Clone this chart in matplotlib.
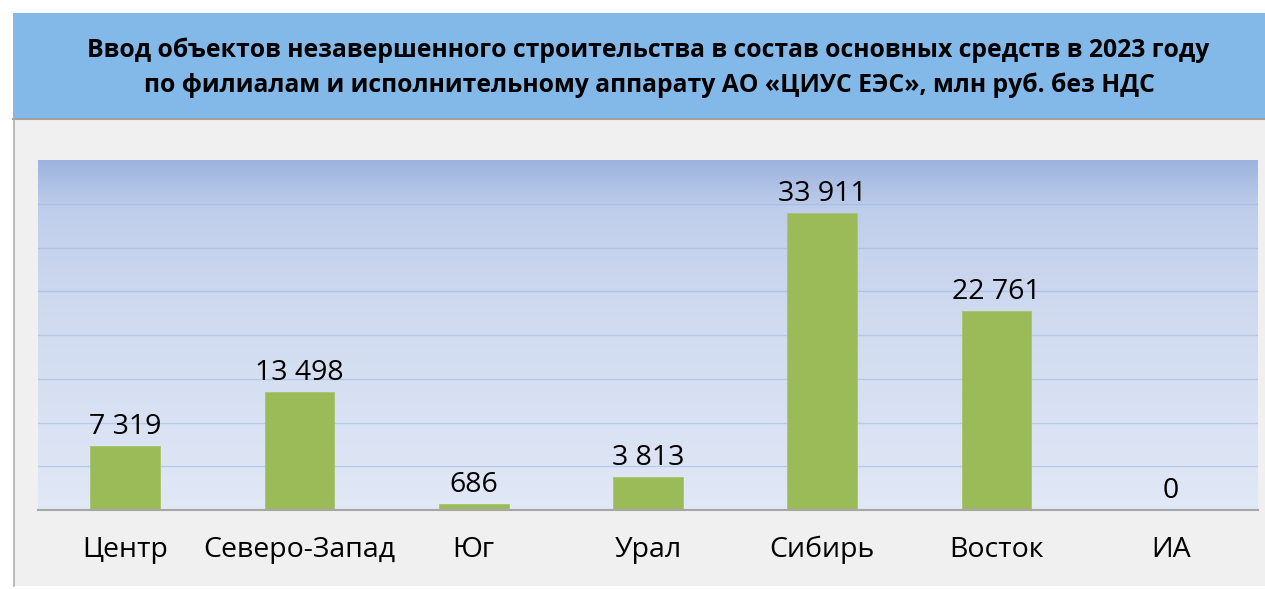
import numpy as np
import matplotlib
matplotlib.use("Agg")
import matplotlib.pyplot as plt
from matplotlib.colors import LinearSegmentedColormap
from matplotlib.patches import Rectangle
from matplotlib.lines import Line2D
import matplotlib.transforms as mtrans

# ── data ─────────────────────────────────────────────
categories = ["Центр", "Северо-Запад", "Юг", "Урал", "Сибирь", "Восток", "ИА"]
values = [7319, 13498, 686, 3813, 33911, 22761, 0]
title_lines = [
    "Ввод объектов незавершенного строительства в состав основных средств в 2023 году",
    "по филиалам и исполнительному аппарату АО «ЦИУС ЕЭС», млн руб. без НДС",
]

W, H = 1265, 589
FONT = ["Open Sans", "Noto Sans", "DejaVu Sans"]
plt.rcParams["font.family"] = FONT

fig = plt.figure(figsize=(W / 100, H / 100), dpi=100)
fig.patch.set_facecolor("white")


def fx(px):
    return px / W


def fy(py):
    return 1 - py / H


# ── frame: header band + grey panel ─────────────────
fig.patches.append(Rectangle((fx(13), fy(586)), 1 - fx(13), fy(120) - fy(586),
                             transform=fig.transFigure, facecolor="#F0F0F0",
                             edgecolor="none", zorder=-3))
fig.patches.append(Rectangle((fx(13), fy(118)), 1 - fx(13), fy(13) - fy(118),
                             transform=fig.transFigure, facecolor="#83B9E8",
                             edgecolor="none", zorder=-3))
fig.lines.append(Line2D([fx(13), 1], [fy(119), fy(119)], transform=fig.transFigure,
                        color="#A0A0A0", lw=1.5, zorder=-2))
fig.lines.append(Line2D([fx(13.5), fx(13.5)], [fy(119), fy(586)], transform=fig.transFigure,
                        color="#B0B0B0", lw=1.2, zorder=-2))

fig.text(fx(648), fy(57), title_lines[0], ha="center", va="baseline",
         fontsize=17.8, fontweight="bold", color="black")
fig.text(fx(649), fy(92), title_lines[1], ha="center", va="baseline",
         fontsize=17.8, fontweight="bold", color="black")

# ── plot area ───────────────────────────────────────
ax = fig.add_axes([fx(38), fy(510), fx(1258) - fx(38), fy(160) - fy(510)])
ax.set_zorder(5)
ax.set_xlim(-0.5, len(categories) - 0.5)
ax.set_ylim(0, 40000)

grad = LinearSegmentedColormap.from_list(
    "bg", [(0.0, "#E1E8F6"), (0.55, "#D0DBF0"), (0.86, "#BFCEEB"), (1.0, "#9DB3DE")])
ax.imshow(np.linspace(0, 1, 256).reshape(-1, 1), cmap=grad, origin="lower",
          extent=[-0.5, len(categories) - 0.5, 0, 40000], aspect="auto", zorder=0)

for yv in range(5000, 40000, 5000):
    ax.axhline(yv, color="#9DB6E2", lw=1.0, alpha=0.55, zorder=1)

x = np.arange(len(categories))
ax.bar(x, values, width=0.4, color="#9BBB59", edgecolor="#A8C46C", lw=0.6, zorder=2)

for xi, v in zip(x, values):
    ax.annotate(f"{v:,}".replace(",", " "), (xi, v), xytext=(0, 8.5),
                textcoords="offset points", ha="center", va="baseline",
                fontsize=20.5, color="black", zorder=3)

lab_tr = mtrans.blended_transform_factory(ax.transData, ax.transAxes)
for xi, c in zip(x, categories):
    ax.text(xi, -47 / 350, c, transform=lab_tr, ha="center", va="baseline",
            fontsize=20.5, color="black", clip_on=False)

for s in ["left", "right", "top"]:
    ax.spines[s].set_visible(False)
ax.spines["bottom"].set_color("#A6A6A6")
ax.spines["bottom"].set_linewidth(1.5)
ax.spines["bottom"].set_zorder(4)
ax.set_xticks([])
ax.set_yticks([])

fig.savefig("out.png", dpi=100)
